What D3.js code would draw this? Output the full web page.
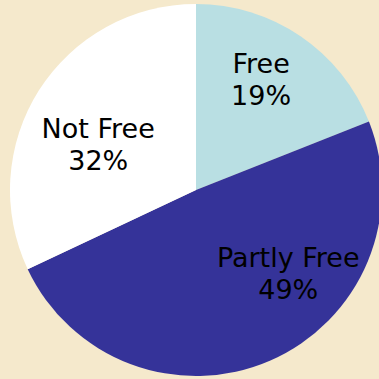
<!DOCTYPE html>
<html lang="en">
<head>
    <meta charset="UTF-8">
    <title>Freedom status pie</title>
    <script src="https://d3js.org/d3.v7.min.js"></script>
    <style>
        html, body { margin: 0; padding: 0; background: #f5e9cc; }
        svg { display: block; }
    </style>
</head>
<body>
    <svg width="379" height="379" id="chart"></svg>
    <script>
        // Data
        const categories = ["Free", "Partly Free", "Not Free"];
        const shares = [19, 49, 32];
        const colors = ["#b9dfe3", "#353399", "#ffffff"];

        const width = 379;
        const height = 379;
        const radius = 186;
        const center = [196, 190];

        // small nudges so labels sit where the original put them
        const labelNudge = [[-6, -5], [42, -32], [9, 23]];

        const svg = d3.select("#chart");
        const g = svg.append("g")
            .attr("transform", `translate(${center[0]},${center[1]})`);

        const pie = d3.pie().sort(null).value(d => d.value);
        const arcs = pie(categories.map((c, i) => ({ name: c, value: shares[i], color: colors[i] })));

        const arc = d3.arc().innerRadius(0).outerRadius(radius);
        const labelArc = d3.arc().innerRadius(radius * 0.68).outerRadius(radius * 0.68);

        g.selectAll("path")
            .data(arcs)
            .enter().append("path")
            .attr("d", arc)
            .attr("fill", d => d.data.color);

        const labels = g.selectAll("text")
            .data(arcs)
            .enter().append("text")
            .attr("transform", (d, i) => {
                const [x, y] = labelArc.centroid(d);
                return `translate(${x + labelNudge[i][0]},${y + labelNudge[i][1]})`;
            })
            .attr("text-anchor", "middle")
            .attr("font-family", "'DejaVu Sans', Verdana, sans-serif")
            .attr("font-size", "27px")
            .attr("fill", "#000");

        labels.append("tspan")
            .attr("x", 0)
            .attr("y", -7)
            .text(d => d.data.name);

        labels.append("tspan")
            .attr("x", 0)
            .attr("y", 25)
            .text(d => `${d.data.value}%`);
    </script>
</body>
</html>
